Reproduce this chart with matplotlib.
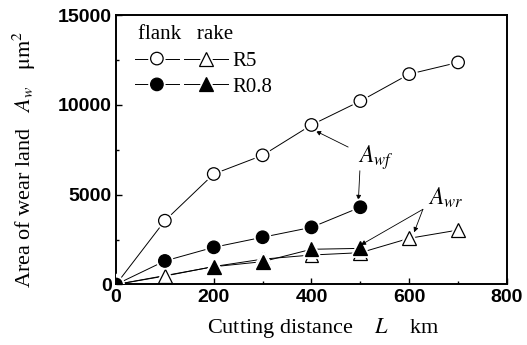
"""Area of wear land vs cutting distance (flank / rake, R5 and R0.8)."""

import matplotlib
matplotlib.use("Agg")
import matplotlib.pyplot as plt
import matplotlib.patheffects as pe
from matplotlib.legend_handler import HandlerTuple
from matplotlib.lines import Line2D
from matplotlib.ticker import MultipleLocator

plt.rcParams["mathtext.fontset"] = "stix"

# data
dist_r5 = [0, 100, 200, 300, 400, 500, 600, 700]
flank_r5 = [0, 3550, 6150, 7190, 8880, 10210, 11710, 12360]
rake_r5 = [0, 470, 1000, 1410, 1640, 1770, 2570, 3030]

dist_r08_flank = [0, 100, 200, 300, 400, 500]
flank_r08 = [0, 1310, 2070, 2630, 3180, 4300]
dist_r08_rake = [0, 200, 300, 400, 500]
rake_r08 = [0, 990, 1270, 1960, 2010]

SERIF = "Liberation Serif"
SANS = "Liberation Sans"
halo = [pe.Stroke(linewidth=3.5, foreground="white"), pe.Normal()]

# (x, y, marker, size, face)
series = [
    (dist_r5, rake_r5, "^", 10, "white"),
    (dist_r08_rake, rake_r08, "^", 10, "black"),
    (dist_r5, flank_r5, "o", 9, "white"),
    (dist_r08_flank, flank_r08, "o", 9, "black"),
]

fig = plt.figure(figsize=(5.27, 3.45), dpi=100)
ax = fig.add_axes([0.2201, 0.1754, 0.7419, 0.7811])

# connecting lines first, markers on top with a white halo (gap at the line)
for x, y, _, _, _ in series:
    ax.plot(x, y, color="black", linewidth=0.7, zorder=1)
handles = []
for i, (x, y, m, ms, face) in enumerate(series):
    ax.plot(x, y, linestyle="none", marker=m, markersize=ms,
            markerfacecolor=face, markeredgecolor="black",
            markeredgewidth=0.9, path_effects=halo, zorder=2 + i)
    handles.append(Line2D([], [], color="black", linewidth=0.7, marker=m,
                          markersize=ms, markerfacecolor=face,
                          markeredgecolor="black", markeredgewidth=0.9,
                          path_effects=halo))

ax.set_xlim(0, 800)
ax.set_ylim(0, 15000)
ax.xaxis.set_major_locator(MultipleLocator(200))
ax.xaxis.set_minor_locator(MultipleLocator(100))
ax.yaxis.set_major_locator(MultipleLocator(5000))
ax.yaxis.set_minor_locator(MultipleLocator(2500))
ax.tick_params(which="both", direction="in", top=False, right=False,
               width=1.0)
ax.tick_params(which="major", length=4.5, pad=3)
ax.tick_params(which="minor", length=2.5)
for lab in ax.get_xticklabels() + ax.get_yticklabels():
    lab.set_fontfamily(SANS)
    lab.set_fontweight("bold")
    lab.set_fontsize(14)
for sp in ax.spines.values():
    sp.set_linewidth(1.4)

ax.set_xlabel(r"Cutting distance    $L$    km", fontfamily=SERIF,
              fontsize=16)
ax.xaxis.set_label_coords(0.53, -0.118)
ax.set_ylabel(r"Area of wear land   $A_w$   $\mathrm{\mu m}^2$",
              fontfamily=SERIF, fontsize=16)
ax.yaxis.set_label_coords(-0.2, 0.466)

# legend: two marker columns (flank, rake) per row
rake_r5_h, rake_r08_h, flank_r5_h, flank_r08_h = handles
ax.legend(
    [(flank_r5_h, rake_r5_h), (flank_r08_h, rake_r08_h)],
    ["R5", "R0.8"],
    handler_map={tuple: HandlerTuple(ndivide=None, pad=0.25)},
    loc="upper left", bbox_to_anchor=(0.0, 0.935), frameon=False,
    handlelength=4.5, handletextpad=0.2, labelspacing=0.3,
    prop={"family": SERIF, "size": 15},
)
ax.text(0.056, 0.926, "flank   rake", transform=ax.transAxes,
        fontfamily=SERIF, fontsize=15, va="center")

# annotations
arrow = dict(arrowstyle="-|>", color="black", lw=0.6, mutation_scale=7,
             shrinkA=0, shrinkB=0)
ax.text(495, 7040, r"$A_{wf}$", fontsize=17, va="center", ha="left")
ax.annotate("", xy=(409, 8540), xytext=(475, 7650), arrowprops=arrow)
ax.annotate("", xy=(496, 4700), xytext=(499, 6330), arrowprops=arrow)
ax.text(639, 4810, r"$A_{wr}$", fontsize=17, va="center", ha="left")
ax.annotate("", xy=(501, 2200), xytext=(628, 4185), arrowprops=arrow)
ax.annotate("", xy=(610, 2905), xytext=(628, 4185), arrowprops=arrow)

fig.savefig("out.png", dpi=100)
